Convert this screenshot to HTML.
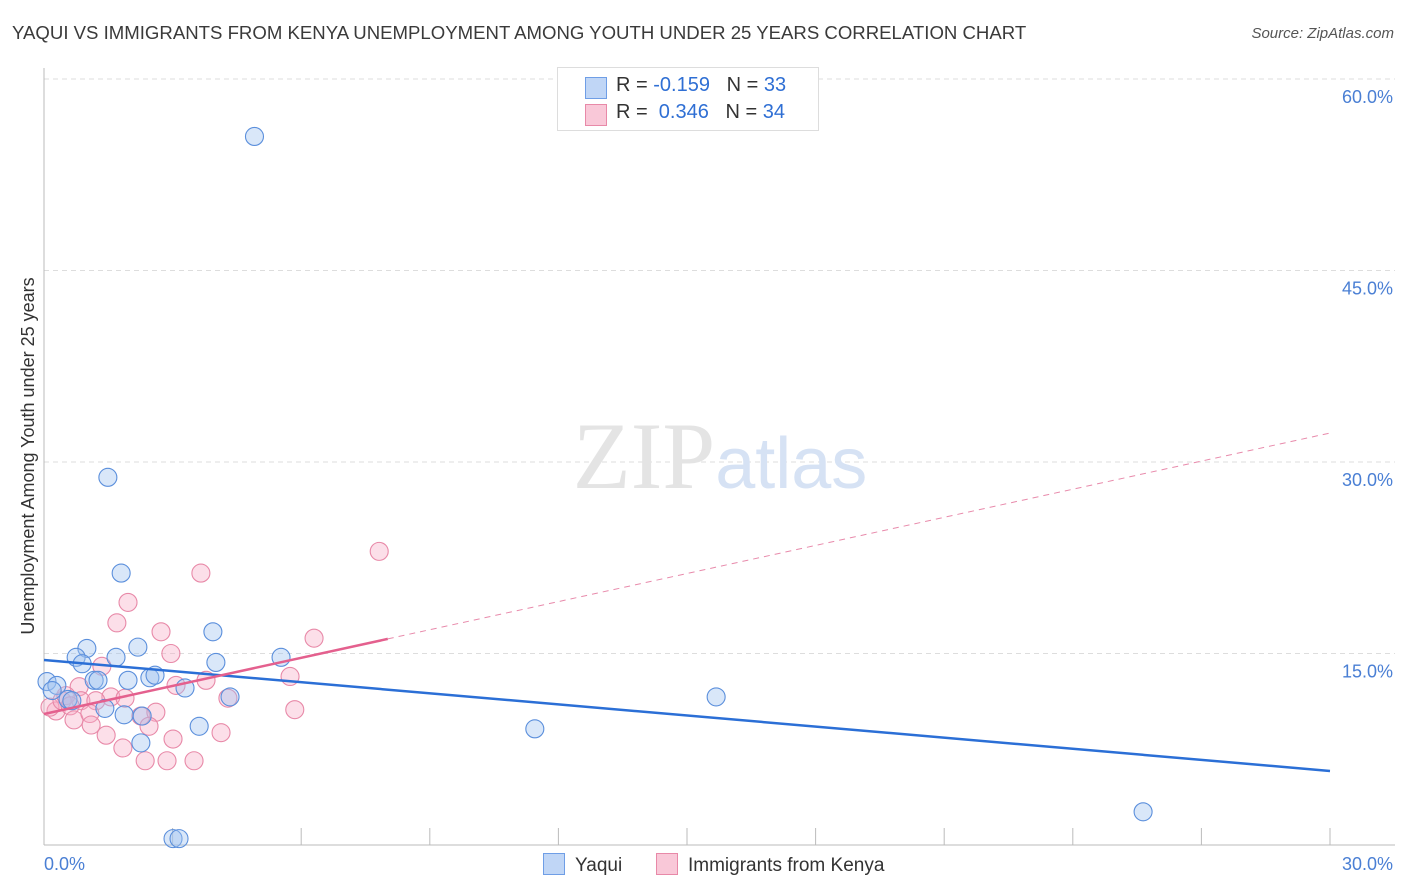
<!DOCTYPE html>
<html><head><meta charset="utf-8"><style>
body{margin:0;background:#fff;font-family:"Liberation Sans",sans-serif;}
#wrap{position:relative;width:1406px;height:892px;}
.t{position:absolute;white-space:nowrap;}
</style></head><body>
<div id="wrap">
<div class="t" style="left:12px;top:22px;font-size:18.6px;color:#3a3a3a;">YAQUI VS IMMIGRANTS FROM KENYA UNEMPLOYMENT AMONG YOUTH UNDER 25 YEARS CORRELATION CHART</div>
<div class="t" style="right:12px;top:25px;font-size:15px;color:#555;font-style:italic;">Source: ZipAtlas.com</div>
<svg id="svg" width="1406" height="892" style="position:absolute;left:0;top:0"></svg>
</div>
<script>
const yTicks=[15,30,45,60];
const yTickLabels=["15.0%","30.0%","45.0%","60.0%"];
const xTickLabels=["0.0%","30.0%"];
const yaquiX=[4.91,1.49,1.80,3.94,1.00,2.19,0.75,0.89,1.68,4.01,5.53,1.17,1.26,1.96,2.47,2.59,3.29,0.07,0.30,0.19,0.56,0.65,1.42,1.87,2.29,3.62,2.26,4.34,11.45,15.68,25.64,3.01,3.15];
const yaquiY=[55.5,28.8,21.3,16.7,15.4,15.5,14.7,14.2,14.7,14.3,14.7,12.9,12.9,12.9,13.1,13.3,12.3,12.8,12.5,12.1,11.4,11.3,10.7,10.2,10.1,9.3,8.0,11.6,9.1,11.6,2.6,0.5,0.5];
const kenyaX=[7.82,3.66,1.96,1.70,2.73,6.30,2.96,1.35,5.74,3.08,3.78,0.82,1.56,0.86,1.21,0.28,0.14,0.42,0.51,0.61,4.29,1.89,0.70,1.07,1.45,2.26,2.61,2.45,3.01,1.84,1.10,4.13,2.36,2.87,3.50,5.85];
const kenyaY=[23.0,21.3,19.0,17.4,16.7,16.2,15.0,14.0,13.2,12.5,12.9,12.4,11.6,11.3,11.3,10.5,10.8,11.3,11.7,10.9,11.5,11.5,9.8,10.3,8.6,10.1,10.4,9.3,8.3,7.6,9.4,8.8,6.6,6.6,6.6,10.6];
const blueTrend=[14.49,5.80];
const pinkTrend=[10.26,32.27];
const pinkSolidEnd=8.02;
const X=v=>44+v/30*1286, Y=v=>845-v/15*191.5;
const s=document.getElementById('svg'),NS='http://www.w3.org/2000/svg';
function mk(t,a){const e=document.createElementNS(NS,t);for(const k in a)e.setAttribute(k,a[k]);s.appendChild(e);return e;}
yTicks.forEach((v,i)=>{
 const g=mk('line',{x1:44,x2:1395,y1:Y(v),y2:Y(v),stroke:'#ddd','stroke-dasharray':'5,4'});
 
 
 const t=mk('text',{x:1393,y:Y(v)+24,'text-anchor':'end','font-size':18,fill:'#4a7fd4'});t.textContent=yTickLabels[i];
 
 
});
mk('line',{x1:44,x2:44,y1:68,y2:845,stroke:'#bbb'});
mk('line',{x1:44,x2:1395,y1:845,y2:845,stroke:'#bbb'});
for(let i=1;i<=10;i++){const l=mk('line',{x1:44+i*128.6,x2:44+i*128.6,y1:828,y2:845,stroke:'#bbb'});}
const t0=mk('text',{x:44,y:870,'font-size':18,fill:'#4a7fd4'});t0.textContent=xTickLabels[0];


const t1=mk('text',{x:1393,y:870,'text-anchor':'end','font-size':18,fill:'#4a7fd4'});t1.textContent=xTickLabels[1];


const yt=mk('text',{x:34,y:456,transform:'rotate(-90 34 456)','text-anchor':'middle','font-size':18,fill:'#333'});yt.textContent='Unemployment Among Youth under 25 years';


const wm=mk('text',{x:720,y:488,'text-anchor':'middle','font-size':95,fill:'#e4e4e4','font-family':'Liberation Serif'});wm.innerHTML='ZIP<tspan fill="#d6e2f4" font-family="Liberation Sans" font-size="72">atlas</tspan>';


kenyaX.forEach((x,i)=>{const c=mk('circle',{cx:X(x),cy:Y(kenyaY[i]),r:9,fill:'rgba(246,170,196,0.38)',stroke:'#e889a8','stroke-width':1.1});
 
 });
yaquiX.forEach((x,i)=>{const c=mk('circle',{cx:X(x),cy:Y(yaquiY[i]),r:9,fill:'rgba(160,196,240,0.4)',stroke:'#5b8fdc','stroke-width':1.1});
 
 });
const bl=mk('line',{x1:X(0),y1:Y(blueTrend[0]),x2:X(30),y2:Y(blueTrend[1]),stroke:'#2b6fd6','stroke-width':2.5});


const py=v=>pinkTrend[0]+(pinkTrend[1]-pinkTrend[0])*v/30;
const pl=mk('line',{x1:X(0),y1:Y(py(0)),x2:X(pinkSolidEnd),y2:Y(py(pinkSolidEnd)),stroke:'#e4608e','stroke-width':2.5});


const pd=mk('line',{x1:X(pinkSolidEnd),y1:Y(py(pinkSolidEnd)),x2:X(30),y2:Y(py(30)),stroke:'#e88aab','stroke-width':1,'stroke-dasharray':'6,5'});


</script>
<div class="t" style="left:557px;top:67px;width:260px;height:62px;border:1px solid #ddd;background:#fff;font-size:20px;color:#333;">
 <div style="position:absolute;left:27px;top:9px;width:20px;height:20px;background:#c0d6f6;border:1px solid #6f9ee6;"></div>
 <div style="position:absolute;left:58px;top:6px;">R = <span style="color:#2f6fd4">-0.159</span>&nbsp;&nbsp;&nbsp;N = <span style="color:#2f6fd4">33</span></div>
 <div style="position:absolute;left:27px;top:36px;width:20px;height:20px;background:#f9c8d8;border:1px solid #e889a8;"></div>
 <div style="position:absolute;left:58px;top:33px;">R = &nbsp;<span style="color:#2f6fd4">0.346</span>&nbsp;&nbsp;&nbsp;N = <span style="color:#2f6fd4">34</span></div>
</div>
<div class="t" style="left:543px;top:853px;font-size:19px;color:#333;"><span style="display:inline-block;width:20px;height:20px;background:#c0d6f6;border:1px solid #6f9ee6;vertical-align:-4px;margin-right:10px;"></span>Yaqui</div>
<div class="t" style="left:656px;top:853px;font-size:19px;color:#333;"><span style="display:inline-block;width:20px;height:20px;background:#f9c8d8;border:1px solid #e889a8;vertical-align:-4px;margin-right:10px;"></span>Immigrants from Kenya</div>
</body></html>
